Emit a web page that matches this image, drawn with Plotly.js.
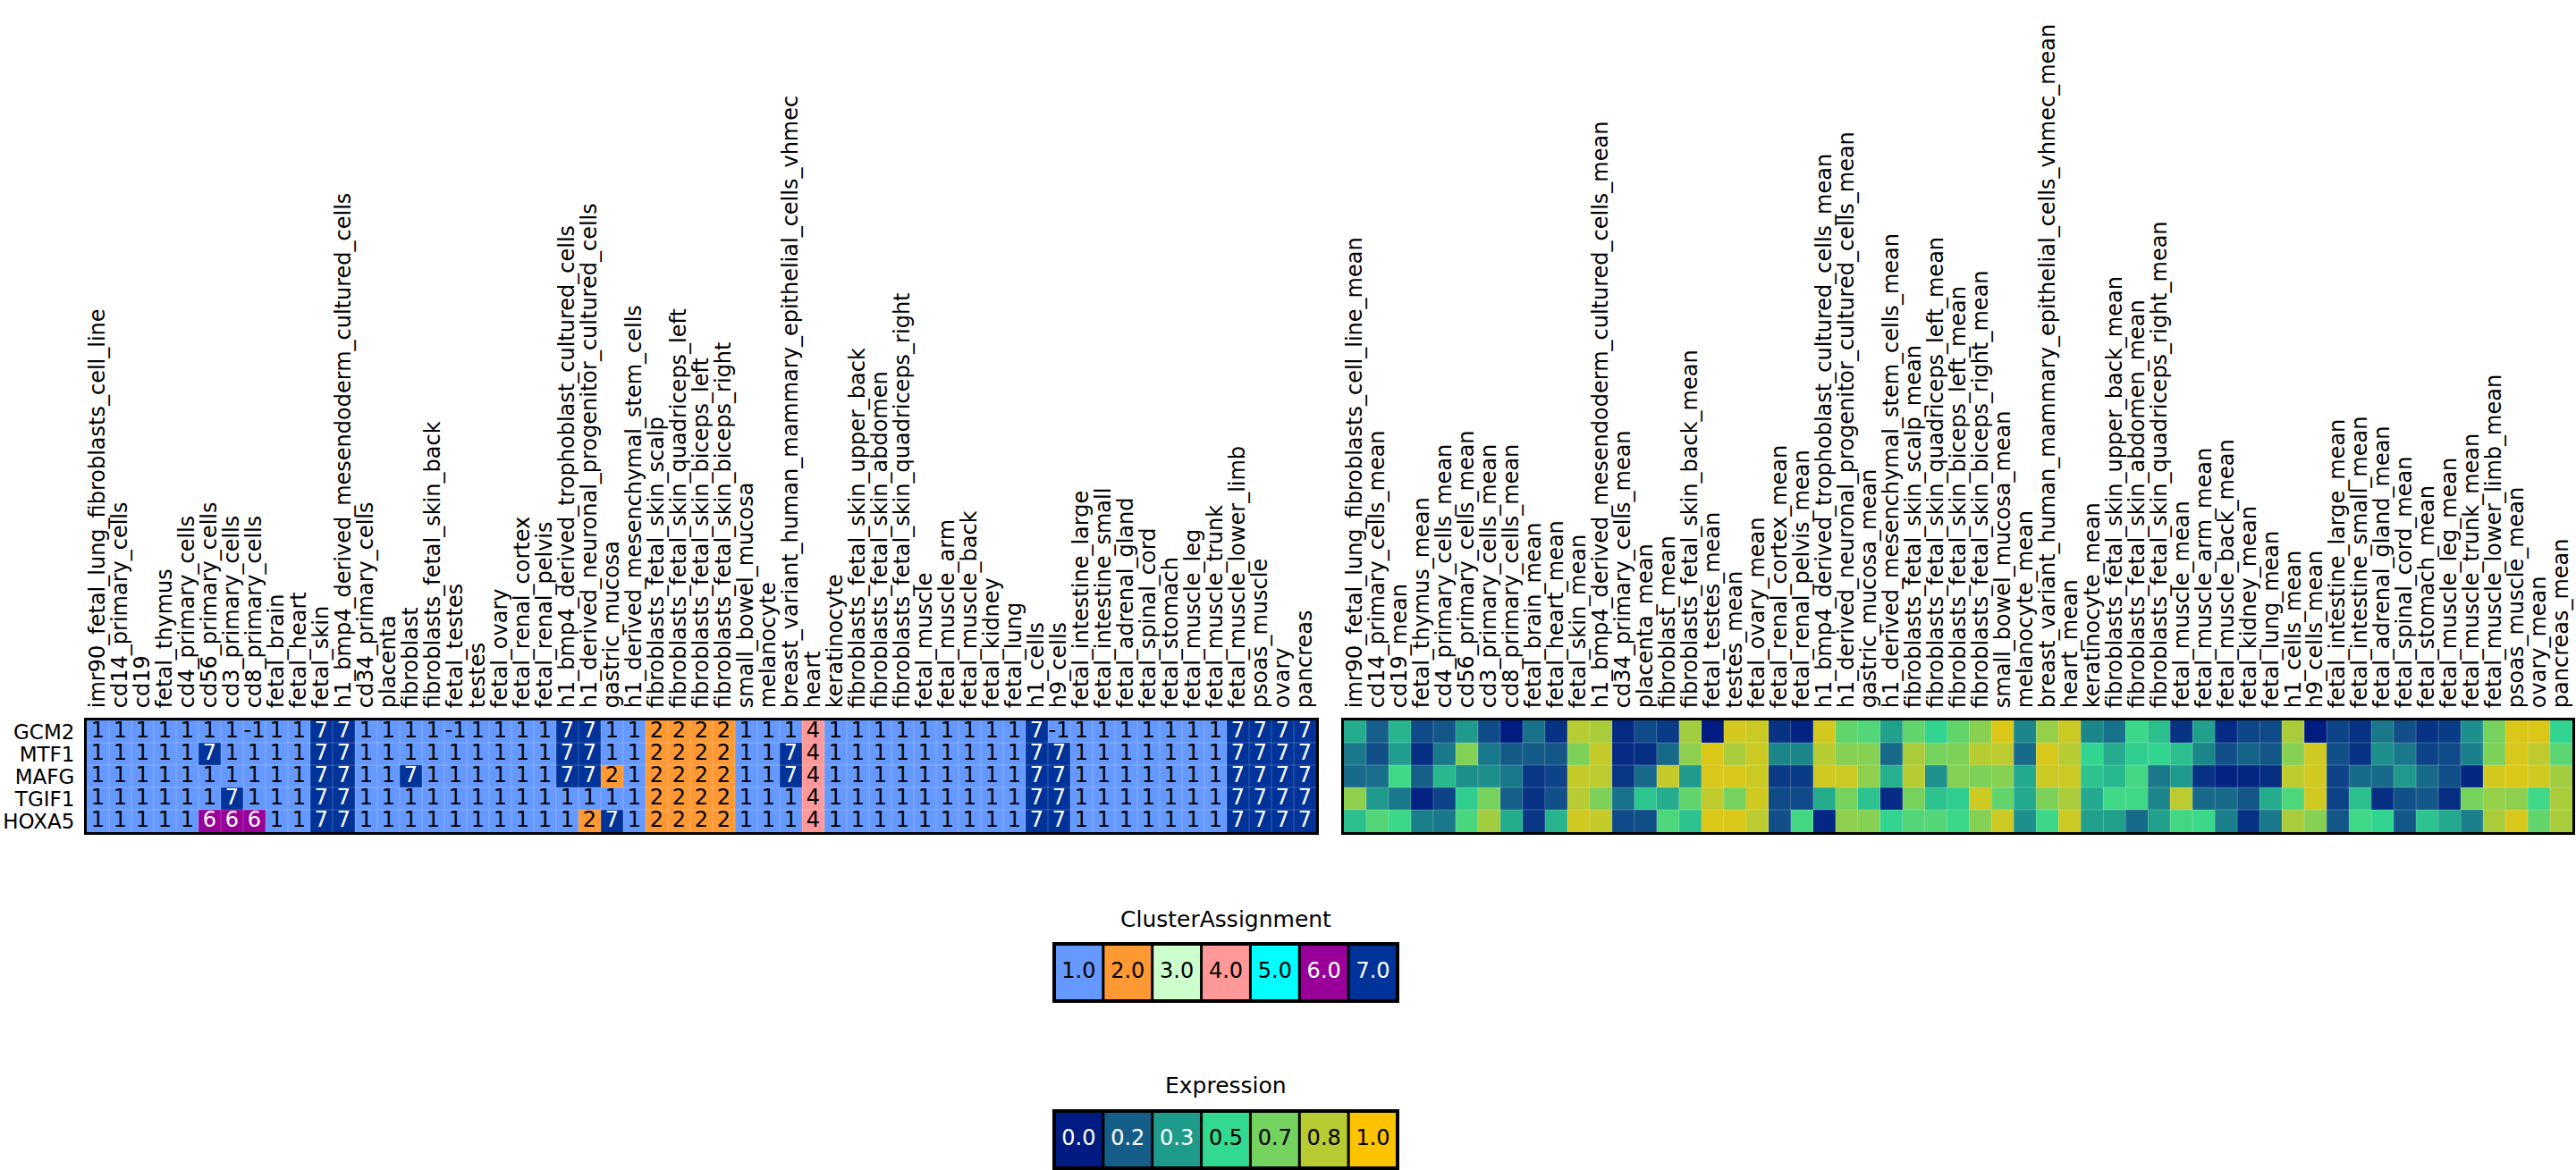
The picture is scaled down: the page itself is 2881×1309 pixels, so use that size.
<!DOCTYPE html>
<html>
<head>
<meta charset="utf-8">
<script src="https://cdn.plot.ly/plotly-3.0.1.min.js"></script>
<style>html,body{margin:0;padding:0;background:#fff;}#chart{width:2881px;height:1309px;}</style>
</head>
<body>
<div id="chart"></div>
<script>
// ---------------- DATA ----------------
const genes = ['GCM2', 'MTF1', 'MAFG', 'TGIF1', 'HOXA5'];

const tissues = [
  'imr90_fetal_lung_fibroblasts_cell_line', 'cd14_primary_cells', 'cd19', 'fetal_thymus',
  'cd4_primary_cells', 'cd56_primary_cells', 'cd3_primary_cells', 'cd8_primary_cells',
  'fetal_brain', 'fetal_heart', 'fetal_skin', 'h1_bmp4_derived_mesendoderm_cultured_cells',
  'cd34_primary_cells', 'placenta', 'fibroblast', 'fibroblasts_fetal_skin_back', 'fetal_testes',
  'testes', 'fetal_ovary', 'fetal_renal_cortex', 'fetal_renal_pelvis',
  'h1_bmp4_derived_trophoblast_cultured_cells', 'h1_derived_neuronal_progenitor_cultured_cells',
  'gastric_mucosa', 'h1_derived_mesenchymal_stem_cells', 'fibroblasts_fetal_skin_scalp',
  'fibroblasts_fetal_skin_quadriceps_left', 'fibroblasts_fetal_skin_biceps_left',
  'fibroblasts_fetal_skin_biceps_right', 'small_bowel_mucosa', 'melanocyte',
  'breast_variant_human_mammary_epithelial_cells_vhmec', 'heart', 'keratinocyte',
  'fibroblasts_fetal_skin_upper_back', 'fibroblasts_fetal_skin_abdomen',
  'fibroblasts_fetal_skin_quadriceps_right', 'fetal_muscle', 'fetal_muscle_arm',
  'fetal_muscle_back', 'fetal_kidney', 'fetal_lung', 'h1_cells', 'h9_cells',
  'fetal_intestine_large', 'fetal_intestine_small', 'fetal_adrenal_gland', 'fetal_spinal_cord',
  'fetal_stomach', 'fetal_muscle_leg', 'fetal_muscle_trunk', 'fetal_muscle_lower_limb',
  'psoas_muscle', 'ovary', 'pancreas'
];
const meanLabels = tissues.map(t => t + '_mean');

// Cluster assignment per gene (left heatmap)
const clusterGCM2  = [1,1,1,1,1,1,1,-1,1,1,7,7,1,1,1,1,-1,1,1,1,1,7,7,1,1,2,2,2,2,1,1,1,4,1,1,1,1,1,1,1,1,1,7,-1,1,1,1,1,1,1,1,7,7,7,7];
const clusterMTF1  = [1,1,1,1,1,7,1,1,1,1,7,7,1,1,1,1,1,1,1,1,1,7,7,1,1,2,2,2,2,1,1,7,4,1,1,1,1,1,1,1,1,1,7,7,1,1,1,1,1,1,1,7,7,7,7];
const clusterMAFG  = [1,1,1,1,1,1,1,1,1,1,7,7,1,1,7,1,1,1,1,1,1,7,7,2,1,2,2,2,2,1,1,7,4,1,1,1,1,1,1,1,1,1,7,7,1,1,1,1,1,1,1,7,7,7,7];
const clusterTGIF1 = [1,1,1,1,1,1,7,1,1,1,7,7,1,1,1,1,1,1,1,1,1,1,1,1,1,2,2,2,2,1,1,1,4,1,1,1,1,1,1,1,1,1,7,7,1,1,1,1,1,1,1,7,7,7,7];
const clusterHOXA5 = [1,1,1,1,1,6,6,6,1,1,7,7,1,1,1,1,1,1,1,1,1,1,2,7,1,2,2,2,2,1,1,1,4,1,1,1,1,1,1,1,1,1,7,7,1,1,1,1,1,1,1,7,7,7,7];

// Mean expression per gene (right heatmap), estimated from colours
const exprGCM2  = [0.38,0.17,0.40,0.12,0.15,0.33,0.12,0.00,0.22,0.06,0.83,0.80,0.04,0.12,0.08,0.78,0.00,0.90,
                   0.88,0.06,0.02,0.90,0.62,0.58,0.35,0.62,0.49,0.62,0.72,0.92,0.28,0.75,0.88,0.28,0.22,0.52,
                   0.43,0.06,0.35,0.04,0.11,0.12,0.80,0.00,0.10,0.06,0.24,0.13,0.06,0.08,0.30,0.67,0.92,0.92,0.49];
const exprMTF1  = [0.24,0.13,0.34,0.05,0.24,0.70,0.24,0.16,0.16,0.15,0.69,0.86,0.04,0.05,0.20,0.73,0.92,0.80,
                   0.88,0.28,0.28,0.83,0.71,0.71,0.20,0.80,0.67,0.69,0.83,0.84,0.20,0.91,0.83,0.49,0.38,0.47,
                   0.49,0.43,0.28,0.13,0.18,0.15,0.71,0.89,0.13,0.06,0.30,0.24,0.10,0.12,0.26,0.69,0.91,0.85,0.60];
const exprMAFG  = [0.20,0.21,0.53,0.17,0.41,0.30,0.30,0.24,0.07,0.10,0.86,0.84,0.07,0.20,0.86,0.33,0.91,0.91,
                   0.88,0.08,0.08,0.89,0.88,0.73,0.39,0.83,0.31,0.71,0.69,0.71,0.37,0.88,0.88,0.44,0.41,0.54,
                   0.24,0.33,0.06,0.02,0.03,0.05,0.85,0.89,0.10,0.20,0.20,0.33,0.20,0.13,0.03,0.90,0.92,0.89,0.78];
const exprTGIF1 = [0.73,0.33,0.24,0.02,0.10,0.47,0.67,0.17,0.06,0.13,0.83,0.69,0.22,0.45,0.38,0.62,0.85,0.67,
                   0.89,0.12,0.12,0.38,0.67,0.44,0.04,0.67,0.44,0.47,0.88,0.62,0.37,0.69,0.80,0.37,0.53,0.53,
                   0.28,0.84,0.20,0.20,0.15,0.38,0.57,0.89,0.10,0.43,0.05,0.13,0.15,0.05,0.67,0.75,0.73,0.53,0.80];
const exprHOXA5 = [0.43,0.58,0.52,0.26,0.24,0.56,0.78,0.38,0.07,0.40,0.89,0.86,0.12,0.13,0.57,0.44,0.92,0.92,
                   0.84,0.13,0.54,0.03,0.73,0.71,0.49,0.58,0.58,0.52,0.71,0.88,0.30,0.52,0.88,0.35,0.35,0.20,
                   0.35,0.54,0.52,0.26,0.06,0.24,0.80,0.71,0.15,0.53,0.49,0.15,0.44,0.37,0.26,0.80,0.91,0.62,0.80];

// Legend data
const clusterValues = [1, 2, 3, 4, 5, 6, 7];
const clusterColors = ['#6699ff', '#ff9933', '#ccffcc', '#ff9999', '#00ffff', '#990099', '#003399'];
const exprLegendValues = [0, 1/6, 2/6, 3/6, 4/6, 5/6, 1];
const exprColors = ['#001b82', '#155e8a', '#1f9b8c', '#33d990', '#74d25e', '#b8cb32', '#fcc400'];

// ---------------- BUILD ----------------
const W = 2881, H = 1309;
const FONT = 'DejaVu Sans, sans-serif';

const clusterRows = [clusterGCM2, clusterMTF1, clusterMAFG, clusterTGIF1, clusterHOXA5];
const exprRows = [exprGCM2, exprMTF1, exprMAFG, exprTGIF1, exprHOXA5];

function brightness(hex) {
  const r = parseInt(hex.substr(1, 2), 16), g = parseInt(hex.substr(3, 2), 16), b = parseInt(hex.substr(5, 2), 16);
  return (r * 299 + g * 587 + b * 114) / 1000;
}
function textColorOn(hex) { return brightness(hex) < 128 ? '#ffffff' : '#000000'; }

// discrete cluster colorscale (zmin 0.5, zmax 7.5)
const clusterScale = [];
clusterColors.forEach((c, k) => { clusterScale.push([k / 7, c]); clusterScale.push([(k + 1) / 7, c]); });
const exprScale = exprLegendValues.map((v, k) => [v, exprColors[k]]);

// -1 is drawn with the colour of cluster 1
const clusterZ = clusterRows.map(r => r.map(v => (v === -1 ? 1 : v)));

const traces = [];
traces.push({
  type: 'heatmap', x: tissues, y: genes, z: clusterZ, xaxis: 'x', yaxis: 'y',
  colorscale: clusterScale, zmin: 0.5, zmax: 7.5, showscale: false, hoverinfo: 'skip'
});
// cell numbers
const tx = [], ty = [], tt = [], tc = [];
clusterRows.forEach((row, i) => row.forEach((v, j) => {
  tx.push(tissues[j]); ty.push(genes[i]); tt.push(String(v));
  const cz = v === -1 ? 1 : v;
  tc.push(textColorOn(clusterColors[cz - 1]));
}));
traces.push({
  type: 'scatter', mode: 'text', x: tx, y: ty, text: tt, xaxis: 'x', yaxis: 'y',
  textposition: 'middle center', textfont: {family: FONT, size: 24, color: tc}, hoverinfo: 'skip'
});

traces.push({
  type: 'heatmap', x: meanLabels, y: genes, z: exprRows, xaxis: 'x2', yaxis: 'y2',
  colorscale: exprScale, zmin: 0, zmax: 1, showscale: false, hoverinfo: 'skip'
});

// legends
const clusterLegendLabels = clusterValues.map(v => v.toFixed(1));
const exprLegendLabels = exprLegendValues.map(v => v.toFixed(1));
traces.push({
  type: 'heatmap', x: clusterLegendLabels, y: [0], z: [clusterValues], xaxis: 'x3', yaxis: 'y3',
  colorscale: clusterScale, zmin: 0.5, zmax: 7.5, showscale: false, hoverinfo: 'skip'
});
traces.push({
  type: 'scatter', mode: 'text', x: clusterLegendLabels, y: clusterValues.map(() => 0), text: clusterLegendLabels,
  xaxis: 'x3', yaxis: 'y3', textposition: 'middle center',
  textfont: {family: FONT, size: 24, color: clusterColors.map(textColorOn)}, hoverinfo: 'skip'
});
traces.push({
  type: 'heatmap', x: exprLegendLabels, y: [0], z: [exprLegendValues], xaxis: 'x4', yaxis: 'y4',
  colorscale: exprScale, zmin: 0, zmax: 1, showscale: false, hoverinfo: 'skip'
});
traces.push({
  type: 'scatter', mode: 'text', x: exprLegendLabels, y: exprLegendValues.map(() => 0), text: exprLegendLabels,
  xaxis: 'x4', yaxis: 'y4', textposition: 'middle center',
  textfont: {family: FONT, size: 24, color: exprColors.map(textColorOn)}, hoverinfo: 'skip'
});

// ---------------- LAYOUT ----------------
const hmY = [1 - 931 / H, 1 - 806 / H];
const baseAxis = {
  showgrid: false, zeroline: false, showline: true, mirror: true, linewidth: 3, linecolor: '#000',
  fixedrange: true
};
const xTop = Object.assign({}, baseAxis, {
  type: 'category', side: 'top', tickangle: -90, ticks: 'outside', ticklen: 6,
  tickmode: 'linear', tick0: 0, dtick: 1,
  tickcolor: 'rgba(0,0,0,0)', tickfont: {family: FONT, size: 24, color: '#000'},
  range: [-0.5, tissues.length - 0.5]
});
const legAxis = {
  type: 'category', showgrid: false, zeroline: false, showline: false, showticklabels: false,
  ticks: '', fixedrange: true
};

const shapes = [];
const gridStyle = {color: 'rgba(255,255,255,0.22)', width: 1};
[['x', 'y'], ['x2', 'y2']].forEach(([xa, ya]) => {
  for (let k = 1; k < tissues.length; k++) {
    shapes.push({type: 'line', xref: xa, yref: ya + ' domain', x0: k - 0.5, x1: k - 0.5, y0: 0, y1: 1, line: gridStyle, layer: 'above'});
  }
  for (let k = 1; k < genes.length; k++) {
    shapes.push({type: 'line', xref: xa + ' domain', yref: ya, x0: 0, x1: 1, y0: k - 0.5, y1: k - 0.5, line: gridStyle, layer: 'above'});
  }
});
[['x3', 'y3', clusterValues.length], ['x4', 'y4', exprLegendValues.length]].forEach(([xa, ya, n]) => {
  shapes.push({type: 'rect', xref: xa + ' domain', yref: ya + ' domain', x0: 0, x1: 1, y0: 0, y1: 1,
    line: {color: '#000', width: 4}, layer: 'above'});
  for (let k = 1; k < n; k++) {
    shapes.push({type: 'line', xref: xa, yref: ya + ' domain', x0: k - 0.5, x1: k - 0.5, y0: 0, y1: 1,
      line: {color: '#000', width: 3}, layer: 'above'});
  }
});

const legX = [1179 / W, 1563 / W];
const layout = {
  width: W, height: H,
  margin: {l: 0, r: 0, t: 0, b: 0, pad: 0},
  paper_bgcolor: '#ffffff', plot_bgcolor: '#ffffff',
  showlegend: false,
  font: {family: FONT, size: 24, color: '#000'},
  xaxis: Object.assign({}, xTop, {domain: [97 / W, 1472 / W], anchor: 'y'}),
  yaxis: Object.assign({}, baseAxis, {
    type: 'category', domain: hmY, anchor: 'x', range: [genes.length - 0.5, -0.5],
    tickmode: 'linear', tick0: 0, dtick: 1,
    ticks: 'outside', ticklen: 6, tickcolor: 'rgba(0,0,0,0)',
    tickfont: {family: FONT, size: 23, color: '#000'}
  }),
  xaxis2: Object.assign({}, xTop, {domain: [1503 / W, 2877 / W], anchor: 'y2'}),
  yaxis2: Object.assign({}, baseAxis, {
    type: 'category', domain: hmY, anchor: 'x2', range: [genes.length - 0.5, -0.5],
    showticklabels: false, ticks: ''
  }),
  xaxis3: Object.assign({}, legAxis, {domain: legX, anchor: 'y3', range: [-0.5, clusterValues.length - 0.5]}),
  yaxis3: Object.assign({}, legAxis, {type: 'linear', domain: [1 - 1120 / H, 1 - 1056 / H], anchor: 'x3', range: [-0.5, 0.5]}),
  xaxis4: Object.assign({}, legAxis, {domain: legX, anchor: 'y4', range: [-0.5, exprLegendValues.length - 0.5]}),
  yaxis4: Object.assign({}, legAxis, {type: 'linear', domain: [1 - 1307 / H, 1 - 1243 / H], anchor: 'x4', range: [-0.5, 0.5]}),
  shapes: shapes,
  annotations: [
    {text: 'ClusterAssignment', xref: 'paper', yref: 'paper', x: (legX[0] + legX[1]) / 2, y: 1 - 1028 / H,
     xanchor: 'center', yanchor: 'middle', showarrow: false, font: {family: FONT, size: 25, color: '#000'}},
    {text: 'Expression', xref: 'paper', yref: 'paper', x: (legX[0] + legX[1]) / 2, y: 1 - 1214 / H,
     xanchor: 'center', yanchor: 'middle', showarrow: false, font: {family: FONT, size: 25, color: '#000'}}
  ]
};

Plotly.newPlot('chart', traces, layout, {staticPlot: true, displayModeBar: false});
</script>
</body>
</html>
